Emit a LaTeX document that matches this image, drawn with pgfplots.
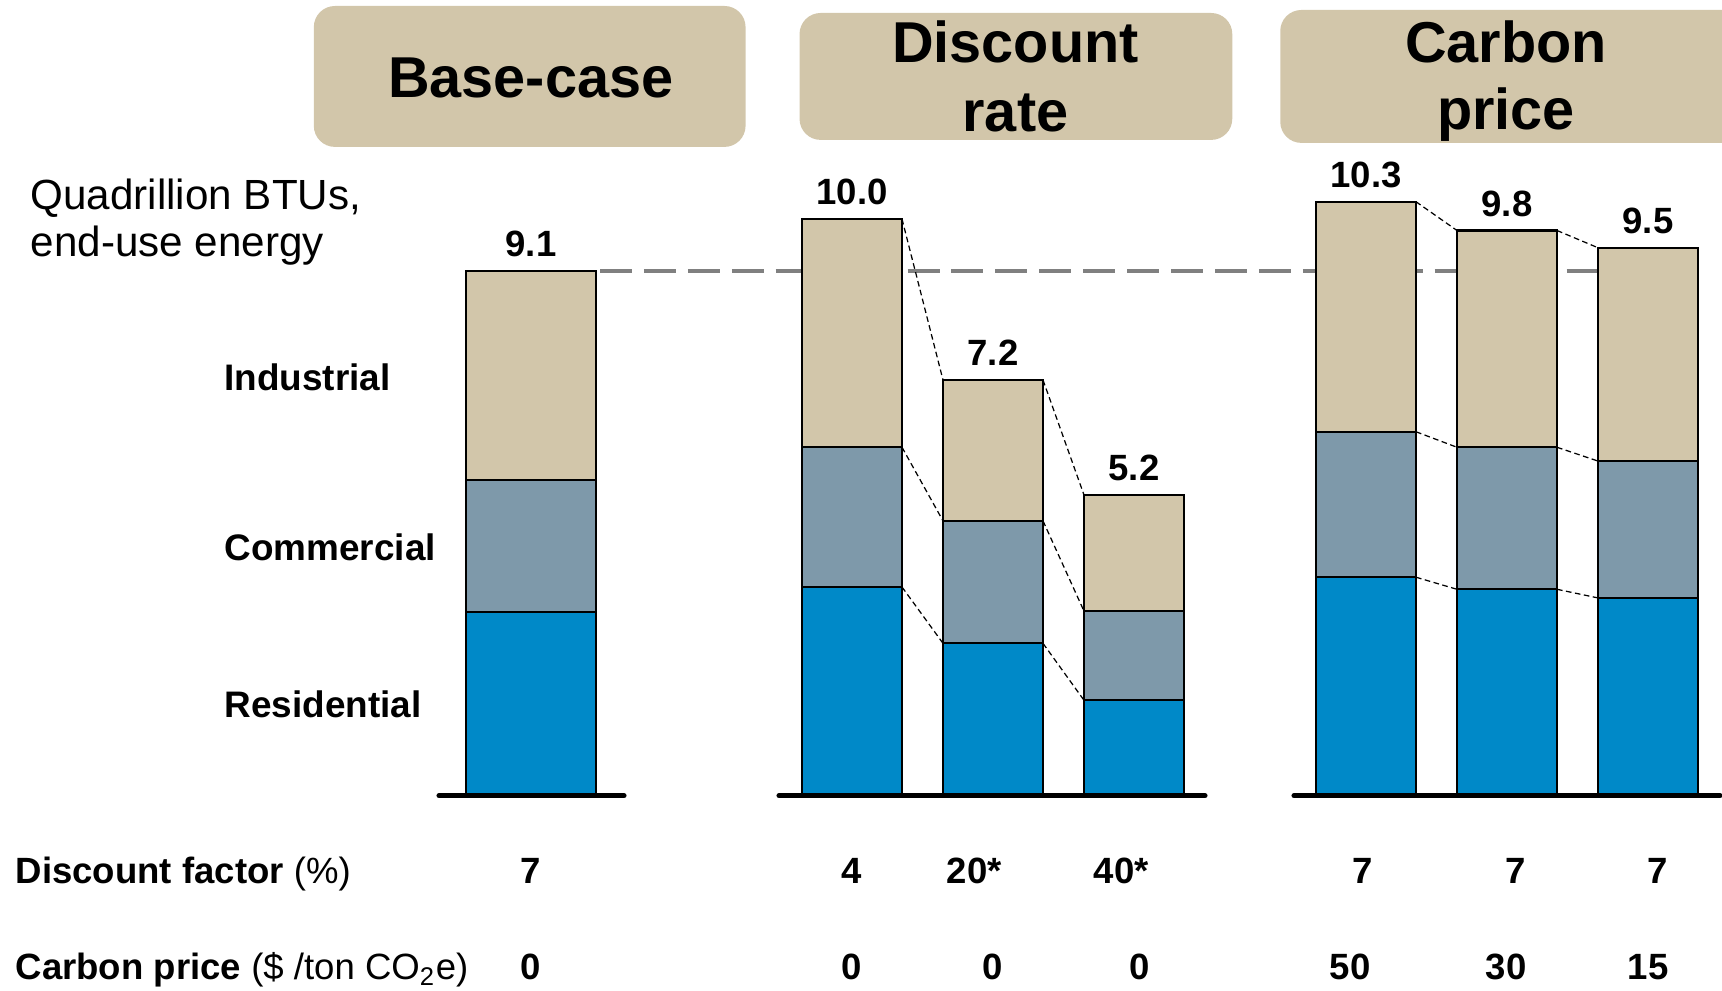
\documentclass[border=0pt]{standalone}
\usepackage{fontspec}
\setmainfont{Liberation Sans}
\usepackage{pgfplots}
\pgfplotsset{compat=1.18}
\usepackage{pgfplotstable}

\definecolor{indus}{RGB}{210,198,170}
\definecolor{comm}{RGB}{126,153,170}
\definecolor{resid}{RGB}{0,137,200}
\definecolor{refgray}{RGB}{128,128,128}

% x = bar centre (picture px); residential, commercial, industrial segments
\pgfplotstableread{
x    res   com   ind
531  3.16  2.30  3.64
}\basecase
\pgfplotstableread{
x    res   com   ind
852  3.60  2.43  3.97
993  2.62  2.13  2.45
1134 1.63  1.55  2.02
1366 3.77  2.53  4.00
1507 3.56  2.47  3.77
1648 3.41  2.38  3.71
}\scenarios

\pgfplotsset{
  seg/.style={ybar, bar shift=0pt, draw=black, line width=0.6pt},
  totlabel/.style={nodes near coords,
    nodes near coords style={anchor=base, yshift=4pt,
      font=\bfseries\fontsize{10.4}{12}\selectfont},
    /pgf/number format/.cd, fixed, fixed zerofill, precision=1,
    assume math mode=true},
  baseline/.style={black, line width=1.45pt, line cap=round},
}

\begin{document}
\begin{tikzpicture}
\path[use as bounding box] (0,0) rectangle (17.22,-9.91);

\begin{axis}[
  at={(0,0)}, anchor=north west,
  scale only axis, width=17.22cm, height=9.91cm,
  xmin=0, xmax=1722, ymin=-3.426, ymax=13.809,
  hide axis, clip=false,
]
% base-case reference level
\addplot[refgray, line width=1.15pt, dash pattern=on 9.1pt off 3.4pt]
  coordinates {(600,9.1) (1598,9.1)};

% base case (wider bar)
\addplot[seg, bar width=130, fill=indus, totlabel]
  table[x=x, y expr=\thisrow{res}+\thisrow{com}+\thisrow{ind}] {\basecase};
\addplot[seg, bar width=130, fill=comm]
  table[x=x, y expr=\thisrow{res}+\thisrow{com}] {\basecase};
\addplot[seg, bar width=130, fill=resid]
  table[x=x, y=res] {\basecase};

% scenarios
\addplot[seg, bar width=100, fill=indus, totlabel]
  table[x=x, y expr=\thisrow{res}+\thisrow{com}+\thisrow{ind}] {\scenarios};
\addplot[seg, bar width=100, fill=comm]
  table[x=x, y expr=\thisrow{res}+\thisrow{com}] {\scenarios};
\addplot[seg, bar width=100, fill=resid]
  table[x=x, y=res] {\scenarios};

% thin connectors between neighbouring bars
\addplot[black, line width=0.35pt, dash pattern=on 1.6pt off 1pt, unbounded coords=jump]
  coordinates {
  (902,10.00) (943,7.20) (920,nan)
  (902,6.03) (943,4.75) (920,nan)
  (902,3.60) (943,2.62) (920,nan)
  (1043,7.20) (1084,5.20) (1060,nan)
  (1043,4.75) (1084,3.18) (1060,nan)
  (1043,2.62) (1084,1.63) (1060,nan)
  (1416,10.30) (1457,9.80) (1430,nan)
  (1416,6.30) (1457,6.03) (1430,nan)
  (1416,3.77) (1457,3.56) (1430,nan)
  (1557,9.80) (1598,9.50) (1570,nan)
  (1557,6.03) (1598,5.79) (1570,nan)
  (1557,3.56) (1598,3.41)
  };

% group baselines
\addplot[baseline] coordinates {(439,-0.03) (624,-0.03)};
\addplot[baseline] coordinates {(779,-0.03) (1205,-0.03)};
\addplot[baseline] coordinates {(1294,-0.03) (1720,-0.03)};
\end{axis}

\begin{scope}[x=0.01cm, y=-0.01cm]
% headers
\fill[indus, rounded corners=6pt] (314,6) rectangle (746,147);
\fill[indus, rounded corners=6pt] (800,13) rectangle (1233,140);
\fill[indus, rounded corners=6pt] (1281,10) rectangle (1760,143);
\begin{scope}[every node/.style={anchor=base, inner sep=0pt,
    font=\bfseries\fontsize{16.4}{19}\selectfont}]
\node at (531,98) {Base-case};
\node at (1016,63) {Discount};
\node at (1016,132) {rate};
\node at (1507,63) {Carbon};
\node at (1507,130) {price};
\end{scope}

% unit
\begin{scope}[every node/.style={anchor=base west, inner sep=0pt,
    font=\fontsize{12}{14}\selectfont}]
\node at (30,210) {Quadrillion BTUs,};
\node at (30,257) {end-use energy};
\end{scope}

% sector labels
\begin{scope}[every node/.style={anchor=base west, inner sep=0pt,
    font=\bfseries\fontsize{10.5}{12}\selectfont}]
\node at (224,391) {Industrial};
\node at (224,561) {Commercial};
\node at (224,718) {Residential};
\end{scope}

% scenario rows
\begin{scope}[every node/.style={inner sep=0pt,
    font=\bfseries\fontsize{10.4}{12}\selectfont}]
\node[anchor=base west] at (15,884) {Discount factor \mdseries(\%)};
\node[anchor=base west] at (15,980) {Carbon price \mdseries(\$ /ton CO$_{\mathrm{2}}$e)};
\node[anchor=base] at (531,884) {7};
\node[anchor=base] at (852,884) {4};
\node[anchor=base] at (975,884) {20*};
\node[anchor=base] at (1122,884) {40*};
\node[anchor=base] at (1363,884) {7};
\node[anchor=base] at (1517,884) {7};
\node[anchor=base] at (1659,884) {7};
\node[anchor=base] at (531,980) {0};
\node[anchor=base] at (852,980) {0};
\node[anchor=base] at (993,980) {0};
\node[anchor=base] at (1140,980) {0};
\node[anchor=base] at (1351,980) {50};
\node[anchor=base] at (1507,980) {30};
\node[anchor=base] at (1649,980) {15};
\end{scope}
\end{scope}
\end{tikzpicture}
\end{document}
